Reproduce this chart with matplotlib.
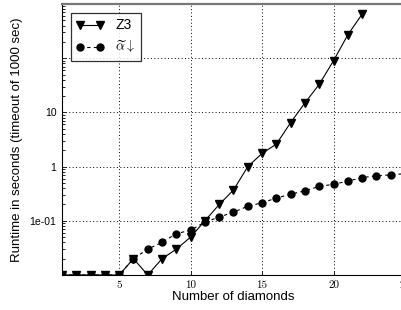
import matplotlib
matplotlib.use("Agg")
import matplotlib.pyplot as plt
from matplotlib.ticker import FixedLocator, LogLocator, NullFormatter

plt.rcParams['font.family'] = ['Liberation Sans', 'DejaVu Sans']
plt.rcParams['mathtext.fontset'] = 'cm'

diamonds = list(range(1, 26))
z3_x = list(range(1, 23))
z3_runtime = [0.01, 0.01, 0.01, 0.01, 0.01, 0.02, 0.01, 0.02, 0.03, 0.05,
              0.1, 0.2, 0.37, 1.0, 1.75, 2.6, 6.5, 15, 33, 90, 270, 650]
alpha_runtime = [0.01, 0.01, 0.01, 0.01, 0.01, 0.02, 0.03, 0.04, 0.058, 0.067,
                 0.095, 0.117, 0.145, 0.185, 0.216, 0.262, 0.31, 0.358, 0.43,
                 0.473, 0.537, 0.628, 0.675, 0.705, 0.74]
x_ticks = [5, 10, 15, 20, 25]
y_ticks = [0.01, 0.1, 1, 10, 100, 1000]
y_tick_labels = ['', '1e-01', '1', '10', '', '']

fig = plt.figure(figsize=(4.02, 3.10), dpi=100)
ax = fig.add_axes([62/402, 1 - 275/310, 343/402, 271/310])

ax.plot(z3_x, z3_runtime, color='black', lw=0.8, marker='v', markersize=5.5,
        label='Z3', zorder=3)
ax.plot(diamonds, alpha_runtime, color='black', lw=0.8, ls=(0, (3, 3)),
        marker='o', markersize=5, label=r'$\widetilde{\alpha}\downarrow$', zorder=3)

ax.set_yscale('log')
ax.set_xlim(1, 25)
ax.set_ylim(0.01, 1000)
ax.set_xticks(x_ticks)
ax.set_xticklabels([str(t) for t in x_ticks], fontfamily='cmr10', fontsize=8)
ax.yaxis.set_major_locator(FixedLocator(y_ticks))
ax.set_yticklabels(y_tick_labels, fontsize=7.5)
ax.yaxis.set_minor_locator(LogLocator(base=10, subs=range(2, 10)))
ax.yaxis.set_minor_formatter(NullFormatter())
ax.tick_params(which='both', direction='in', length=3, width=0.6, pad=4)
ax.tick_params(which='minor', length=1.8)
ax.grid(True, which='major', color='black', ls=(0, (1, 2.5)), lw=0.7)

for s in ax.spines.values():
    s.set_linewidth(0.8)
ax.spines['top'].set_color('#777777')
ax.spines['top'].set_linewidth(1.6)

ax.set_xlabel('Number of diamonds', fontsize=9.5, labelpad=1)
ax.set_ylabel('Runtime in seconds (timeout of 1000 sec)', fontsize=9.5, labelpad=5)

leg = ax.legend(loc='upper left', fontsize=10, frameon=True, fancybox=False,
                edgecolor='black', handlelength=2.0, borderpad=0.4, numpoints=2,
                labelspacing=0.45, handletextpad=0.8, bbox_to_anchor=(0.005, 0.993))
leg.get_frame().set_linewidth(0.9)

fig.savefig('out.png', dpi=100)
